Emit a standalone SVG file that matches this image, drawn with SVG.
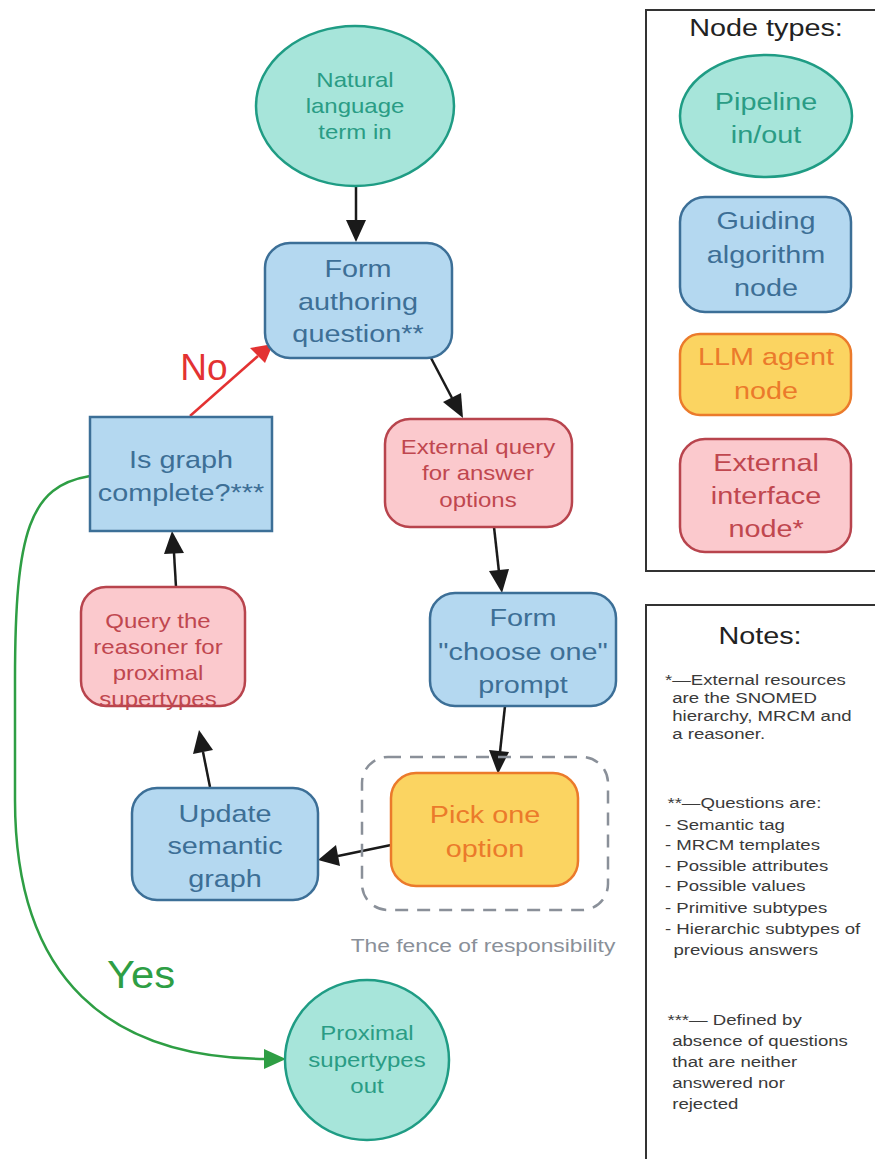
<svg xmlns="http://www.w3.org/2000/svg" width="875" height="1159" viewBox="0 0 875 1159">
<defs>
<style>
text{font-family:"Liberation Sans",Arial,sans-serif;text-anchor:middle;dominant-baseline:central}
.teal{fill:#a7e5da;stroke:#1f9c84;stroke-width:2.5}
.tealt{fill:#2a9c85}
.blue{fill:#b4d8f0;stroke:#3c6f97;stroke-width:2.5}
.bluet{fill:#3d6f96}
.pink{fill:#fbc9cd;stroke:#b8444d;stroke-width:2.5}
.pinkt{fill:#c0474f}
.yel{fill:#fbd461;stroke:#eb7a2b;stroke-width:2.5}
.yelt{fill:#eb7a2b}
.big{font-size:24px}
.med{font-size:20px}
.note{font-size:15.5px;fill:#3a3a3a;text-anchor:start;dominant-baseline:auto}
.conn{fill:none;stroke:#1a1a1a;stroke-width:2.5}
.head{fill:#1a1a1a}
</style>
</defs>
<rect width="875" height="1159" fill="#ffffff"/>

<g id="connectors">
<line x1="356" y1="186" x2="356" y2="222" class="conn"/>
<path d="M346,220 L366,220 L356,242 z" class="head"/>
<line x1="431" y1="358" x2="452" y2="398" class="conn"/>
<path d="M443,402 L461,393 L463,418 z" class="head"/>
<line x1="494" y1="527" x2="499" y2="572" class="conn"/>
<path d="M489,571 L509,569 L502,593 z" class="head"/>
<line x1="505" y1="706" x2="500" y2="752" class="conn"/>
<path d="M489,750 L509,752 L498,774 z" class="head"/>
<line x1="391" y1="845" x2="338" y2="856" class="conn"/>
<path d="M336,845 L340,866 L318,860 z" class="head"/>
<line x1="210" y1="787" x2="203" y2="752" class="conn"/>
<path d="M193,754 L213,750 L199,730 z" class="head"/>
<line x1="176" y1="587" x2="174" y2="553" class="conn"/>
<path d="M164,554 L184,553 L172,531 z" class="head"/>
<line x1="190" y1="416" x2="258" y2="356" stroke="#e33232" stroke-width="2.5"/>
<path d="M250,348 L265,363 L273,344 z" fill="#e33232"/>
<path d="M90,476 C30,486 15,530 15,680 L15,800 C15,980 110,1058 265,1059" fill="none" stroke="#2e9e44" stroke-width="2.5"/>
<path d="M264,1049 L286,1059 L264,1069 z" fill="#2e9e44"/>
<text x="204" y="367" font-size="37" fill="#e33232">No</text>
<g transform="translate(141,0) scale(1.1,1)"><text x="0" y="975" font-size="38" fill="#2e9e44">Yes</text></g>
</g>

<g id="n-in">
<ellipse cx="355" cy="106" rx="99" ry="80" class="teal"/>
<g transform="translate(355,0) scale(1.2,1)">
<text x="0" y="80" class="med tealt">Natural</text>
<text x="0" y="106" class="med tealt">language</text>
<text x="0" y="132" class="med tealt">term in</text>
</g>
</g>

<g id="n-form-question">
<rect x="265" y="243" width="187" height="115" rx="25" class="blue"/>
<g transform="translate(358,0) scale(1.2,1)">
<text x="0" y="269" class="big bluet">Form</text>
<text x="0" y="302" class="big bluet">authoring</text>
<text x="0" y="334" class="big bluet">question**</text>
</g>
</g>

<g id="n-external-query">
<rect x="385" y="419" width="187" height="108" rx="25" class="pink"/>
<g transform="translate(478,0) scale(1.2,1)">
<text x="0" y="447" class="med pinkt">External query</text>
<text x="0" y="473" class="med pinkt">for answer</text>
<text x="0" y="500" class="med pinkt">options</text>
</g>
</g>

<g id="n-form-prompt">
<rect x="430" y="593" width="186" height="113" rx="25" class="blue"/>
<g transform="translate(523,0) scale(1.2,1)">
<text x="0" y="618" class="big bluet">Form</text>
<text x="0" y="652" class="big bluet">"choose one"</text>
<text x="0" y="685" class="big bluet">prompt</text>
</g>
</g>

<g id="n-fence">
<rect x="362" y="757" width="246" height="153" rx="26" fill="none" stroke="#8a9099" stroke-width="2.5" stroke-dasharray="13,9"/>
<g transform="translate(483,0) scale(1.2,1)">
<text x="0" y="945" font-size="19" fill="#8a9099">The fence of responsibility</text>
</g>
</g>

<g id="n-pick">
<rect x="391" y="773" width="187" height="113" rx="25" class="yel"/>
<g transform="translate(485,0) scale(1.2,1)">
<text x="0" y="815" class="big yelt">Pick one</text>
<text x="0" y="849" class="big yelt">option</text>
</g>
</g>

<g id="n-update">
<rect x="132" y="788" width="186" height="112" rx="25" class="blue"/>
<g transform="translate(225,0) scale(1.2,1)">
<text x="0" y="814" class="big bluet">Update</text>
<text x="0" y="846" class="big bluet">semantic</text>
<text x="0" y="879" class="big bluet">graph</text>
</g>
</g>

<g id="n-query-reasoner">
<rect x="81" y="587" width="164" height="119" rx="25" class="pink"/>
<g transform="translate(158,0) scale(1.2,1)">
<text x="0" y="621" class="med pinkt">Query the</text>
<text x="0" y="647" class="med pinkt">reasoner for</text>
<text x="0" y="673" class="med pinkt">proximal</text>
<text x="0" y="699" class="med pinkt">supertypes</text>
</g>
</g>

<g id="n-complete">
<rect x="90" y="417" width="182" height="114" class="blue"/>
<g transform="translate(181,0) scale(1.2,1)">
<text x="0" y="460" class="big bluet">Is graph</text>
<text x="0" y="493" class="big bluet">complete?***</text>
</g>
</g>

<g id="n-out">
<ellipse cx="367" cy="1060" rx="82" ry="80" class="teal"/>
<g transform="translate(367,0) scale(1.2,1)">
<text x="0" y="1033" class="med tealt">Proximal</text>
<text x="0" y="1060" class="med tealt">supertypes</text>
<text x="0" y="1086" class="med tealt">out</text>
</g>
</g>

<g id="legend">
<rect x="646" y="10" width="240" height="561" fill="none" stroke="#333333" stroke-width="2"/>
<ellipse cx="766" cy="116" rx="86" ry="61" class="teal"/>
<rect x="680" y="197" width="171" height="115" rx="25" class="blue"/>
<rect x="680" y="334" width="171" height="81" rx="20" class="yel"/>
<rect x="680" y="439" width="171" height="113" rx="25" class="pink"/>
<g transform="translate(766,0) scale(1.2,1)">
<text x="0" y="28" font-size="24" fill="#222222">Node types:</text>
<text x="0" y="102" class="big tealt">Pipeline</text>
<text x="0" y="135" class="big tealt">in/out</text>
<text x="0" y="221" class="big bluet">Guiding</text>
<text x="0" y="255" class="big bluet">algorithm</text>
<text x="0" y="288" class="big bluet">node</text>
<text x="0" y="357" class="big yelt">LLM agent</text>
<text x="0" y="391" class="big yelt">node</text>
<text x="0" y="463" class="big pinkt">External</text>
<text x="0" y="496" class="big pinkt">interface</text>
<text x="0" y="529" class="big pinkt">node*</text>
</g>
</g>

<g id="notes">
<rect x="646" y="605" width="240" height="570" fill="none" stroke="#333333" stroke-width="2"/>
<g transform="translate(760,0) scale(1.2,1)">
<text x="0" y="636" font-size="24" fill="#222222">Notes:</text>
</g>
<g transform="translate(665,0) scale(1.2,1)">
<text x="0" y="685" class="note">*—External resources</text>
<text x="6" y="703" class="note">are the SNOMED</text>
<text x="6" y="721" class="note">hierarchy, MRCM and</text>
<text x="6" y="739" class="note">a reasoner.</text>
<text x="2" y="808" class="note">**—Questions are:</text>
<text x="0" y="830" class="note">- Semantic tag</text>
<text x="0" y="850" class="note">- MRCM templates</text>
<text x="0" y="871" class="note">- Possible attributes</text>
<text x="0" y="891" class="note">- Possible values</text>
<text x="0" y="913" class="note">- Primitive subtypes</text>
<text x="0" y="934" class="note">- Hierarchic subtypes of</text>
<text x="7" y="955" class="note">previous answers</text>
<text x="2" y="1025" class="note">***— Defined by</text>
<text x="6" y="1046" class="note">absence of questions</text>
<text x="6" y="1067" class="note">that are neither</text>
<text x="6" y="1088" class="note">answered nor</text>
<text x="6" y="1109" class="note">rejected</text>
</g>
</g>
</svg>
